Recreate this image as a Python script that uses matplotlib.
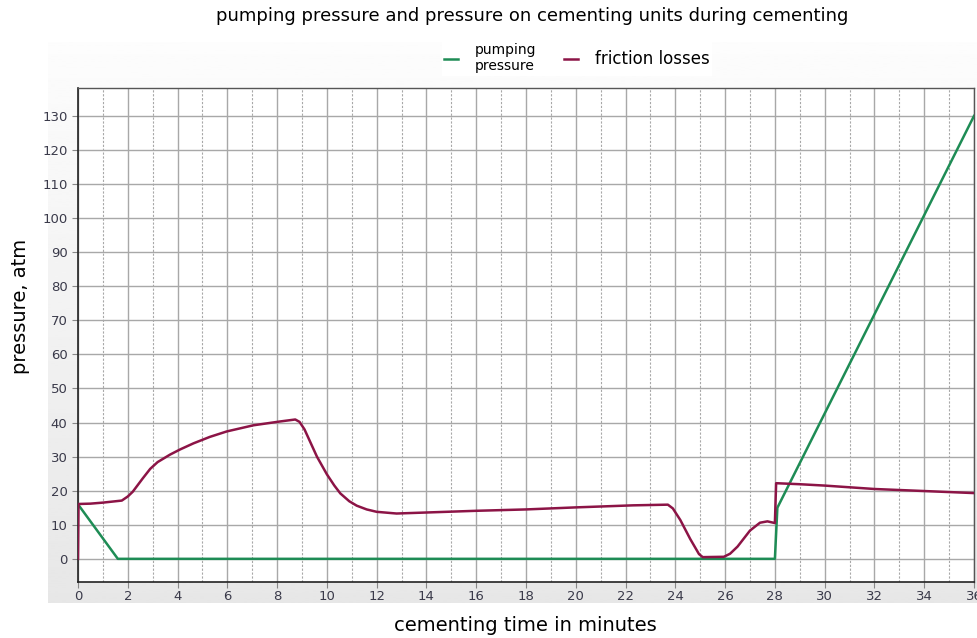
# plot.py
# pumping pressure and friction losses during cementing

import numpy as np
import matplotlib.pyplot as plt
from matplotlib.ticker import MultipleLocator

# pumping pressure (green)
pump_t = [0, 1.6, 28.0, 28.1, 36.0]
pump_p = [16, 0, 0, 15, 130]

# friction losses (maroon)
fric_t = [0, 0.02, 0.5, 1.0, 1.76, 2.0, 2.2, 2.6, 2.9, 3.2, 3.7, 4.1, 4.64, 5.3, 5.98,
          7.05, 8.1, 8.73, 8.9, 9.1, 9.6, 10.0, 10.3, 10.54, 10.9, 11.2, 11.6, 12.0, 12.8,
          14.0, 16.0, 18.0, 20.0, 22.3, 23.7, 23.9, 24.2, 24.6, 24.95, 25.1, 25.95,
          26.2, 26.5, 27.0, 27.4, 27.7, 28.0, 28.05, 29.0, 30.0, 31.0, 32.0, 33.0, 34.0,
          35.0, 36.0]
fric_p = [0, 16.1, 16.2, 16.5, 17.1, 18.3, 19.7, 23.6, 26.4, 28.4, 30.6, 32.1, 33.9,
          35.8, 37.4, 39.2, 40.3, 40.9, 40.2, 38.0, 30.0, 24.8, 21.5, 19.2, 16.9, 15.6,
          14.5, 13.8, 13.3, 13.6, 14.1, 14.5, 15.1, 15.7, 15.9, 14.8, 11.4, 5.8, 1.4, 0.5,
          0.6, 1.5, 3.6, 8.3, 10.6, 11.0, 10.5, 22.2, 21.9, 21.5, 21.0, 20.5, 20.2, 19.9,
          19.6, 19.3]

W, H = 978, 638
fig = plt.figure(figsize=(W / 100, H / 100), dpi=100)

# light gray panel behind the chart
bg = fig.add_axes([48 / W, 1 - 603 / H, 930 / W, (603 - 42) / H], zorder=-5)
grad = np.linspace(0.99, 0.905, 256).reshape(-1, 1)
bg.imshow(grad, aspect='auto', cmap='gray', vmin=0, vmax=1, extent=[0, 1, 0, 1])
bg.axis('off')

ax = fig.add_axes([78 / W, 1 - 582 / H, (974 - 78) / W, (582 - 88) / H])
ax.set_facecolor('white')

ax.plot(pump_t, pump_p, color='#1e8c55', lw=1.8, label='pumping\npressure', zorder=3)
ax.plot(fric_t, fric_p, color='#8c1446', lw=1.8, label='friction losses', zorder=4)

ax.set_xlim(0, 36)
ax.set_ylim(-6.8, 138.2)
ax.xaxis.set_major_locator(MultipleLocator(2))
ax.xaxis.set_minor_locator(MultipleLocator(1))
ax.yaxis.set_major_locator(MultipleLocator(10))
ax.grid(which='major', color='#a8a8a8', lw=1.0, ls='-')
ax.grid(which='minor', axis='x', color='#a8a8a8', lw=0.8, ls=(0, (2, 1.5)))
ax.set_axisbelow(True)
ax.tick_params(which='major', length=4, color='#888888', labelsize=9.5,
               labelcolor='#3a3a4a')
ax.tick_params(which='minor', length=0)
ax.tick_params(axis='x', pad=2)
for s in ['left', 'bottom']:
    ax.spines[s].set_color('#222222')
    ax.spines[s].set_linewidth(1.2)
for s in ['top', 'right']:
    ax.spines[s].set_color('#555555')
    ax.spines[s].set_linewidth(1.0)

fig.text(0.544, 0.975, 'pumping pressure and pressure on cementing units during cementing',
         ha='center', va='center', fontsize=13)
fig.text(0.537, 0.02, 'cementing time in minutes', ha='center', va='center', fontsize=14)
fig.text(0.021, 0.52, 'pressure, atm', ha='center', va='center', rotation=90, fontsize=14)

leg = fig.legend(loc='center', bbox_to_anchor=(0.59, 0.909), ncol=2, frameon=True,
                 facecolor='white', edgecolor='none', framealpha=1, fancybox=False,
                 handlelength=1.0, columnspacing=2.0, handletextpad=1.2, borderpad=0.2)
leg.get_texts()[0].set_fontsize(10)
leg.get_texts()[1].set_fontsize(12)

fig.savefig('out.png', dpi=100)
